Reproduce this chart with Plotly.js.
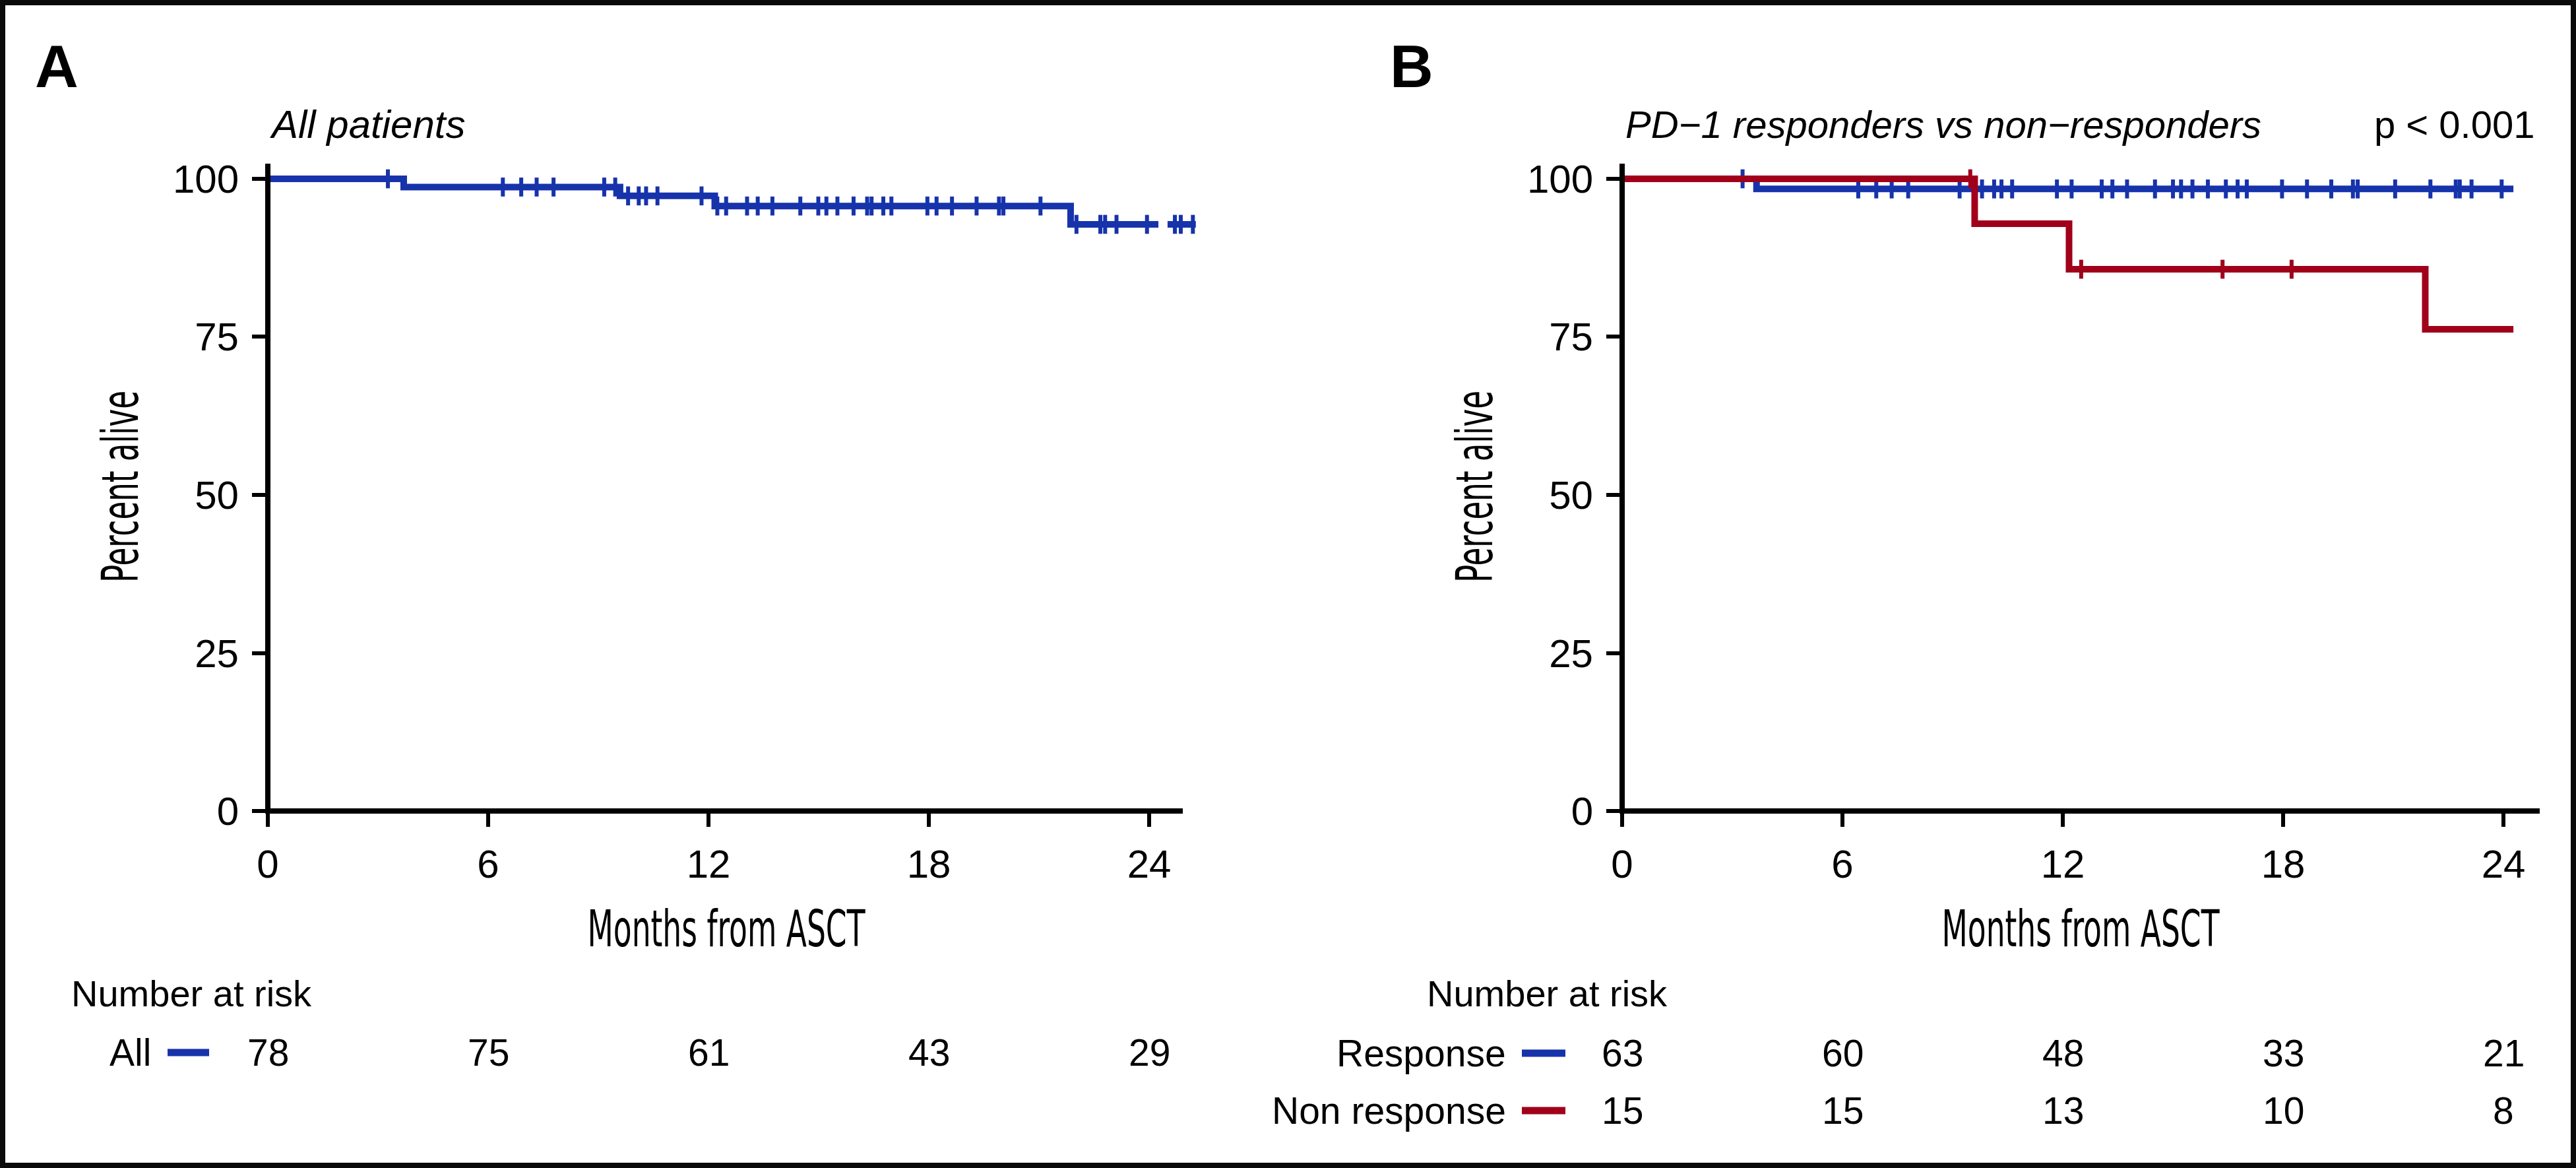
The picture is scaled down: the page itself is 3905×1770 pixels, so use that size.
<!DOCTYPE html>
<html>
<head>
<meta charset="utf-8">
<script src="https://cdn.plot.ly/plotly-3.0.1.min.js"></script>
<style>html,body{margin:0;padding:0;background:#fff;}</style>
</head>
<body>
<div id="chart" style="width:3905px;height:1770px;"></div>
<script>
// ---------------- DATA ----------------
// Panel A: all patients (Kaplan-Meier steps, months from ASCT, percent alive)
const allStepTimes = [0, 3.70, 9.59, 12.17, 21.86];
const allStepSurv  = [100, 98.7, 97.3, 95.7, 92.8];
const allFollowEnd = 25.27;
const allLineBreak = [24.25, 24.50];   // short break visible in the last step of the reference
const allCensorTimes = [3.27, 6.40, 6.90, 7.32, 7.78, 9.16, 9.46, 9.81, 10.10, 10.30, 10.61, 11.81,
  12.24, 12.48, 13.05, 13.34, 13.74, 14.50, 14.99, 15.21, 15.51, 15.95, 16.32, 16.44, 16.76, 16.98,
  17.96, 18.21, 18.63, 19.30, 19.91, 20.03, 21.04, 22.02, 22.67, 22.80, 23.11, 23.94, 24.70, 24.86, 25.19];

// Panel B: PD-1 responders
const respStepTimes = [0, 3.66];
const respStepSurv  = [100, 98.4];
const respFollowEnd = 24.27;
const respCensorTimes = [3.28, 6.43, 6.92, 7.34, 7.79, 9.19, 9.80, 10.13, 10.33, 10.62, 11.84, 12.24,
  13.06, 13.35, 13.75, 14.51, 15.00, 15.22, 15.53, 15.95, 16.44, 16.76, 17.01, 17.97, 18.65, 19.31,
  19.90, 20.03, 21.05, 22.01, 22.70, 22.81, 23.13, 23.95];

// Panel B: PD-1 non-responders
const nonStepTimes = [0, 9.60, 12.17, 21.87];
const nonStepSurv  = [100, 92.9, 85.7, 76.2];
const nonFollowEnd = 24.27;
const nonCensorTimes = [9.48, 12.50, 16.35, 18.23];

// Number at risk table
const riskTimes = [0, 6, 12, 18, 24];
const riskAll  = [78, 75, 61, 43, 29];
const riskResp = [63, 60, 48, 33, 21];
const riskNon  = [15, 15, 13, 10, 8];

// Axis ticks
const xTicks = [0, 6, 12, 18, 24];
const yTicks = [0, 25, 50, 75, 100];

// Texts
const panelLabels = ['A', 'B'];
const panelTitles = ['All patients', 'PD\u22121 responders vs non\u2212responders'];
const pValueText = 'p < 0.001';
const xTitle = 'Months from ASCT';
const yTitle = 'Percent alive';
const riskHeader = 'Number at risk';
const groupNames = ['All', 'Response', 'Non response'];

// ---------------- STYLE / LAYOUT ----------------
const W = 3905, H = 1770;
const px = v => v / W;
const py = v => 1 - v / H;
const BLUE = '#1733AB';
const RED = '#A1001A';
const FONT = 'Liberation Sans, Arial, Helvetica, sans-serif';
const NARROW = 'Liberation Sans Narrow, Arial Narrow, DejaVu Sans Condensed, sans-serif';

function survAt(t, times, surv) {
  let s = surv[0];
  for (let i = 0; i < times.length; i++) if (times[i] <= t) s = surv[i];
  return s;
}
function stepTrace(times, surv, end, color, xa, ya, brk) {
  const last = surv[surv.length - 1];
  let x = times.concat([end]);
  let y = surv.concat([last]);
  if (brk) {
    x = times.concat([brk[0], null, brk[1], end]);
    y = surv.concat([last, null, last, last]);
  }
  return {
    x: x, y: y, connectgaps: false,
    mode: 'lines', line: {shape: 'hv', color: color, width: 10},
    xaxis: xa, yaxis: ya, hoverinfo: 'skip'
  };
}
function censorTrace(ctimes, times, surv, color, xa, ya) {
  return {
    x: ctimes, y: ctimes.map(t => survAt(t, times, surv)),
    mode: 'markers', cliponaxis: false,
    marker: {symbol: 'line-ns', size: 20.5, color: color, line: {color: color, width: 6}},
    xaxis: xa, yaxis: ya, hoverinfo: 'skip'
  };
}

const data = [
  stepTrace(allStepTimes, allStepSurv, allFollowEnd, BLUE, 'x', 'y', allLineBreak),
  censorTrace(allCensorTimes, allStepTimes, allStepSurv, BLUE, 'x', 'y'),
  stepTrace(respStepTimes, respStepSurv, respFollowEnd, BLUE, 'x2', 'y2'),
  censorTrace(respCensorTimes, respStepTimes, respStepSurv, BLUE, 'x2', 'y2'),
  stepTrace(nonStepTimes, nonStepSurv, nonFollowEnd, RED, 'x2', 'y2'),
  censorTrace(nonCensorTimes, nonStepTimes, nonStepSurv, RED, 'x2', 'y2')
];

const MPX = 55.67; // pixels per month
const yDom = [py(1229), py(248)];
const yRange = [0, 102.4];

function xAxis(left, rangeMax, anchor) {
  return {
    domain: [px(left), px(left + rangeMax * MPX)], range: [0, rangeMax], anchor: anchor,
    tickvals: xTicks, ticktext: xTicks.map(String),
    showline: false, zeroline: false, showgrid: false,
    ticks: 'outside', ticklen: 23, tickwidth: 6, tickcolor: '#000',
    ticklabelstandoff: 5,
    tickfont: {family: FONT, size: 60, color: '#000'}, fixedrange: true
  };
}
function yAxis(anchor) {
  return {
    domain: yDom, range: yRange, anchor: anchor,
    tickvals: yTicks, ticktext: yTicks.map(String),
    showline: false, zeroline: false, showgrid: false,
    ticks: 'outside', ticklen: 23, tickwidth: 6, tickcolor: '#000',
    ticklabelstandoff: 8,
    tickfont: {family: FONT, size: 60, color: '#000'}, fixedrange: true
  };
}

const ann = [];
function txt(text, x, y, xanchor, size, opts) {
  const o = Object.assign({
    text: text, x: x, y: y, xref: 'paper', yref: 'paper',
    xanchor: xanchor, yanchor: 'middle', showarrow: false, borderpad: 0,
    font: {family: FONT, size: size, color: '#000'}
  }, opts || {});
  ann.push(o);
}
// panel letters
txt(panelLabels[0], px(86), py(100), 'center', 91, {font: {family: FONT, size: 91, color: '#000', weight: 'bold'}});
txt(panelLabels[1], px(2140), py(100), 'center', 91, {font: {family: FONT, size: 91, color: '#000', weight: 'bold'}});
// titles
txt(panelTitles[0], px(408), py(189), 'left', 60, {font: {family: FONT, size: 60, color: '#000', style: 'italic'}});
txt(panelTitles[1], px(2463), py(189), 'left', 58, {font: {family: FONT, size: 58, color: '#000', style: 'italic'}});
txt(pValueText, px(3844), py(189), 'right', 58);
// axis titles
[1101, 3154].forEach(cx => txt(xTitle, px(cx), py(1407), 'center', 76, {font: {family: NARROW, size: 76, color: '#000'}}));
[182, 2235].forEach(cx => txt(yTitle, px(cx), py(738), 'center', 76, {textangle: -90, font: {family: NARROW, size: 76, color: '#000'}}));
// number at risk headers
txt(riskHeader, px(107), py(1505), 'left', 56);
txt(riskHeader, px(2162), py(1505), 'left', 56);
// row labels
txt(groupNames[0], px(230), py(1595), 'right', 57);
txt(groupNames[1], px(2284), py(1596), 'right', 57);
txt(groupNames[2], px(2284), py(1683), 'right', 57);
// risk numbers on the time axes
function riskRow(vals, xref, yPix) {
  vals.forEach((v, i) => ann.push({
    text: String(v), x: riskTimes[i], y: py(yPix), xref: xref, yref: 'paper',
    xanchor: 'center', yanchor: 'middle', showarrow: false, borderpad: 0,
    font: {family: FONT, size: 57, color: '#000'}
  }));
}
riskRow(riskAll, 'x', 1595);
riskRow(riskResp, 'x2', 1596);
riskRow(riskNon, 'x2', 1683);

function hline(x0, x1, y, color, w) {
  return {type: 'line', xref: 'paper', yref: 'paper', x0: px(x0), x1: px(x1), y0: py(y), y1: py(y), line: {color: color, width: w}};
}
function vline(x, y0, y1, color, w) {
  return {type: 'line', xref: 'paper', yref: 'paper', x0: px(x), x1: px(x), y0: py(y0), y1: py(y1), line: {color: color, width: w}};
}
const shapes = [
  // frame
  {type: 'rect', xref: 'paper', yref: 'paper', x0: px(4), x1: px(W - 4), y0: py(H - 4), y1: py(4), line: {color: '#0a0a0a', width: 8}},
  // axis lines panel A
  hline(402, 1793, 1229, '#000', 8), vline(406, 1233, 248, '#000', 8),
  // axis lines panel B
  hline(2455, 3850, 1229, '#000', 8), vline(2459, 1233, 248, '#000', 8),
  // legend keys
  hline(254, 317, 1595, BLUE, 11),
  hline(2307, 2373, 1596, BLUE, 11),
  hline(2307, 2373, 1683, RED, 11)
];

const layout = {
  width: W, height: H,
  margin: {l: 0, r: 0, t: 0, b: 0, pad: 0},
  paper_bgcolor: '#fff', plot_bgcolor: 'rgba(0,0,0,0)',
  showlegend: false,
  xaxis: xAxis(406, 25.4, 'y'),
  yaxis: yAxis('x'),
  xaxis2: xAxis(2459, 25.0, 'y2'),
  yaxis2: yAxis('x2'),
  annotations: ann,
  shapes: shapes,
  font: {family: FONT, color: '#000'}
};

Plotly.newPlot('chart', data, layout, {staticPlot: true, displayModeBar: false}).then(gd => {
  gd.querySelectorAll('text.annotation-text').forEach(t => {
    const s = t.textContent;
    if (s === xTitle) { t.setAttribute('textLength', 421); t.setAttribute('lengthAdjust', 'spacingAndGlyphs'); }
    if (s === yTitle) { t.setAttribute('textLength', 291); t.setAttribute('lengthAdjust', 'spacingAndGlyphs'); }
  });
});
</script>
</body>
</html>
